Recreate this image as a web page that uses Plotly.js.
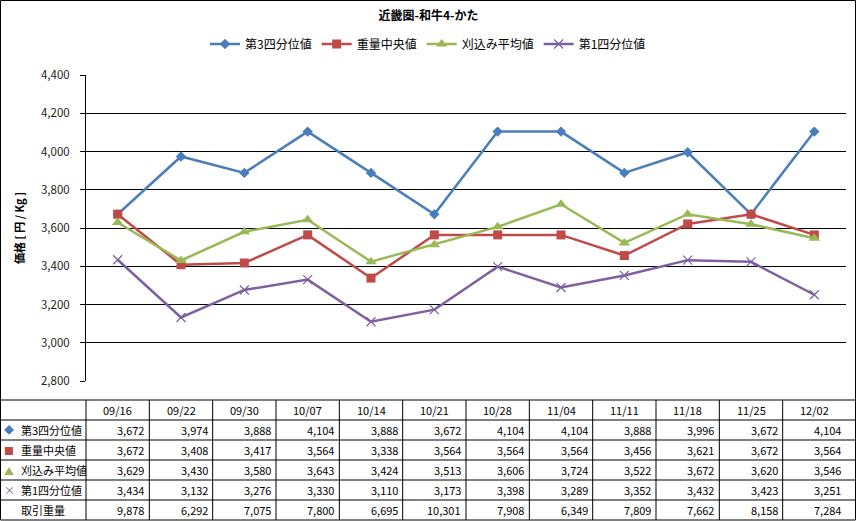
<!DOCTYPE html>
<html>
<head>
<meta charset="utf-8">
<script src="https://cdn.plot.ly/plotly-3.0.1.min.js"></script>
<style>
html,body{margin:0;padding:0;background:#fff;}
#chart{width:857px;height:521px;}
</style>
</head>
<body>
<div id="chart"></div>
<script>
const categories = ['09/16','09/22','09/30','10/07','10/14','10/21','10/28','11/04','11/11','11/18','11/25','12/02'];
const q3Values     = [3672,3974,3888,4104,3888,3672,4104,4104,3888,3996,3672,4104];
const medianValues = [3672,3408,3417,3564,3338,3564,3564,3564,3456,3621,3672,3564];
const trimmedAvg   = [3629,3430,3580,3643,3424,3513,3606,3724,3522,3672,3620,3546];
const q1Values     = [3434,3132,3276,3330,3110,3173,3398,3289,3352,3432,3423,3251];
const volumeValues = [9878,6292,7075,7800,6695,10301,7908,6349,7809,7662,8158,7284];
const seriesNames  = ['第3四分位値','重量中央値','刈込み平均値','第1四分位値'];
const volumeName   = '取引重量';
const yTicks       = [2800,3000,3200,3400,3600,3800,4000,4200,4400];
const chartTitle   = '近畿圏-和牛4-かた';
const yTitle       = '価格 [ 円 / Kg ]';

const FONT = '"Noto Sans CJK JP", "Noto Sans", sans-serif';
const colors  = ['#4A7EBB','#BE4B48','#98B954','#7D60A0'];
const symbols = ['diamond','square','triangle-up','x-thin'];
const glyphs  = ['◆','■','▲','×'];
const sizes   = [8,9,10,9];
const seriesValues = [q3Values, medianValues, trimmedAvg, q1Values];

// pixel geometry of the plot area
const L = 86, W = 760, T = 75, H = 306;
const px = p => (p - L) / W;
const py = p => (T + H - p) / H;

const traces = seriesValues.map((vals, i) => ({
  type: 'scatter', mode: 'lines+markers',
  x: categories, y: vals, name: seriesNames[i],
  line: {color: colors[i], width: 2.5},
  marker: {symbol: symbols[i], size: sizes[i], color: colors[i],
           line: {color: colors[i], width: i === 3 ? 1.2 : 0}}
}));

const shapes = [];
const annotations = [];
const lineStyle = {color: '#000', width: 1};
const n = categories.length;
// table geometry
const tableTop = 400, rowH = 20;
const rows = seriesNames.concat([volumeName]);
const rowData = seriesValues.concat([volumeValues]);
const tableBottom = tableTop + rowH * (rows.length + 1);

// outer border
shapes.push({type:'rect', xref:'paper', yref:'paper', x0: px(0.5), x1: px(855.5), y0: py(0.5), y1: py(520), line: lineStyle});
// horizontal table lines
for (let r = 0; r <= rows.length; r++) {
  const yy = tableTop + r * rowH;
  shapes.push({type:'line', xref:'paper', yref:'paper', x0: px(0.5), x1: px(855.5), y0: py(yy), y1: py(yy), line: lineStyle});
}
// vertical table lines: category boundaries
for (let k = 0; k < n; k++) {
  const xx = k / n;
  shapes.push({type:'line', xref:'paper', yref:'paper', x0: xx, x1: xx, y0: py(tableTop), y1: py(tableBottom), line: lineStyle});
}
// header labels
categories.forEach((c, k) => {
  annotations.push({xref:'paper', yref:'paper', x: (k + 0.5) / n, y: py(tableTop + rowH/2),
    text: c, showarrow:false, xanchor:'center', yanchor:'middle', font:{size:11, color:'#000', family: FONT}});
});
// row labels & values
rows.forEach((name, r) => {
  const yc = py(tableTop + rowH * (r + 1) + rowH/2);
  if (r < glyphs.length) {
    annotations.push({xref:'paper', yref:'paper', x: px(9), y: yc, text: glyphs[r], showarrow:false,
      xanchor:'center', yanchor:'middle', font:{size: r === 3 ? 11 : 10, color: colors[r], family: FONT}});
  }
  annotations.push({xref:'paper', yref:'paper', x: px(19), y: yc, text: name, showarrow:false,
    xanchor:'left', yanchor:'middle', font:{size:11, color:'#000', family: FONT}});
  rowData[r].forEach((v, k) => {
    annotations.push({xref:'paper', yref:'paper', x: (k + 1) / n, xshift: -3, y: yc,
      text: v.toLocaleString('en-US'), showarrow:false, xanchor:'right', yanchor:'middle',
      font:{size:11, color:'#000', family: FONT}});
  });
});
// y axis title
annotations.push({xref:'paper', yref:'paper', x: px(19), y: 0.5, text: '<b>' + yTitle + '</b>', textangle: -90,
  showarrow:false, xanchor:'center', yanchor:'middle', font:{size:11, color:'#000', family: FONT}});

const layout = {
  width: 857, height: 521,
  margin: {l: L, r: 857 - L - W, t: T, b: 521 - T - H, pad: 0},
  paper_bgcolor: '#fff', plot_bgcolor: '#fff',
  font: {family: FONT, color: '#000', size: 11},
  title: {text: '<b>' + chartTitle + '</b>', x: 0.5, xref: 'container', xanchor: 'center',
          y: 1 - 16/521, yref: 'container', yanchor: 'middle', font: {size: 12, color: '#000', family: FONT}},
  showlegend: true,
  legend: {orientation: 'h', x: px(428), xanchor: 'center', y: py(44), yanchor: 'middle',
           font: {size: 12, color: '#000', family: FONT}, itemwidth: 30, tracegroupgap: 0, bgcolor: 'rgba(0,0,0,0)'},
  xaxis: {type: 'category', range: [-0.5, n - 0.5], showticklabels: false, ticks: '', showgrid: false,
          zeroline: false, showline: false, fixedrange: true},
  yaxis: {range: [yTicks[0], yTicks[yTicks.length - 1]], tickvals: yTicks, ticktext: yTicks.map(v => v.toLocaleString('en-US')),
          showgrid: true, gridcolor: '#000', gridwidth: 1, zeroline: false,
          showline: true, linecolor: '#000', linewidth: 1, ticks: 'outside', ticklen: 5, tickcolor: '#000',
          ticklabelstandoff: 8,
          tickfont: {size: 11.5, color: '#222', family: FONT}, fixedrange: true},
  shapes: shapes,
  annotations: annotations
};

Plotly.newPlot('chart', traces, layout, {staticPlot: true, displayModeBar: false});
</script>
</body>
</html>
